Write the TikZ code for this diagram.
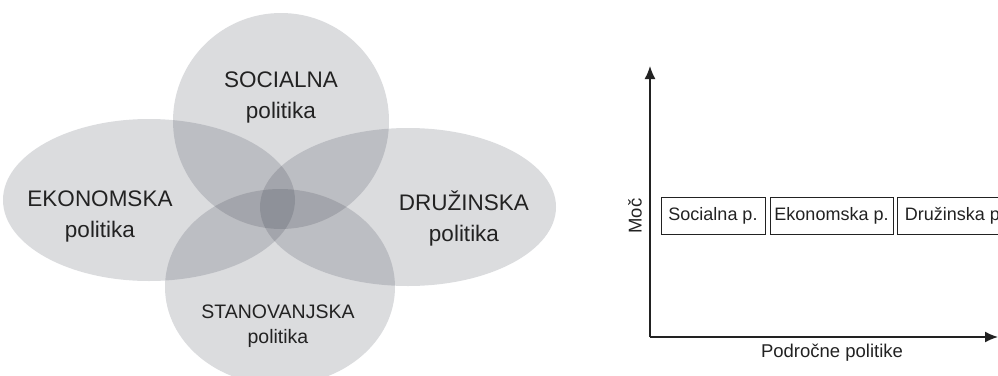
\documentclass[tikz,border=0pt]{standalone}
\usepackage{fontspec}
\setmainfont{Liberation Sans}
\usetikzlibrary{arrows.meta}
\definecolor{vennfill}{RGB}{40,45,60}
\definecolor{ink}{RGB}{34,34,34}
\tikzset{
  venn/.style={fill=vennfill, fill opacity=0.17},
  bigtxt/.style={text=ink, align=center, inner sep=0pt, font=\fontsize{22.5}{31}\selectfont},
  smalltxt/.style={text=ink, align=center, inner sep=0pt, font=\fontsize{19.5}{25}\selectfont},
  axis/.style={draw=ink, line width=1.5pt, -{Latex[length=13pt,width=11pt]}},
  polbox/.style={draw=ink, line width=0.9pt, text=ink, minimum height=37pt, inner sep=0pt, font=\fontsize{18}{20}\selectfont},
  axtxt/.style={text=ink, inner sep=0pt, font=\fontsize{18.5}{20}\selectfont}
}
\begin{document}
\begin{tikzpicture}[x=1pt,y=-1pt]
\useasboundingbox (0,0) rectangle (998,375);
\clip (0,0) rectangle (998,375);
% Venn shapes
\fill[venn] (281,121) ellipse [x radius=108pt, y radius=108pt];
\fill[venn] (149,200) ellipse [x radius=146pt, y radius=81pt];
\fill[venn] (408,207) ellipse [x radius=148pt, y radius=79pt];
\fill[venn] (280,287) ellipse [x radius=115pt, y radius=98pt];
% labels
\node[bigtxt] (soc) at (281,97) {SOCIALNA\\politika};
\node[bigtxt] (eko) at (100,216) {EKONOMSKA\\politika};
\node[bigtxt] (dru) at (464,218) {DRUŽINSKA\\politika};
\node[smalltxt] (sta) at (278,326) {STANOVANJSKA\\politika};
% axes
\coordinate (origin) at (650,337);
\coordinate (ytip) at (650,66);
\coordinate (xtip) at (998,337);
\draw[axis] (origin) -- (ytip);
\draw[axis] (origin) -- (xtip);
\node[axtxt, rotate=90] (moc) at (635,216) {Moč};
\node[axtxt] (podr) at (832,353) {Področne politike};
% boxes
\node[polbox, minimum width=104pt] (b1) at (713,215.5) {Socialna p.};
\node[polbox, minimum width=123pt] (b2) at (831.5,215.5) {Ekonomska p.};
\node[polbox, minimum width=110pt, anchor=west] (b3) at (897,215.5) {\hspace{5pt}Družinska p.\hspace{5pt}};
\end{tikzpicture}
\end{document}
